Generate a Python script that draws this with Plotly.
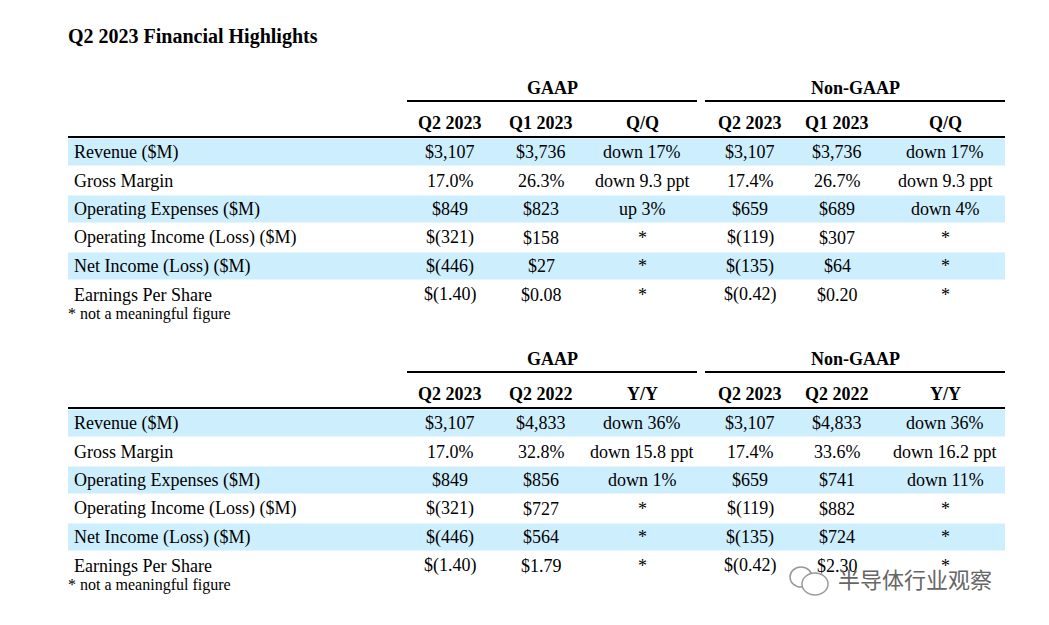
import plotly.graph_objects as go

title = "Q2 2023 Financial Highlights"
row_labels = ["Revenue ($M)", "Gross Margin", "Operating Expenses ($M)",
              "Operating Income (Loss) ($M)", "Net Income (Loss) ($M)", "Earnings Per Share"]
groups = ["GAAP", "Non-GAAP"]
cols1 = ["Q2 2023", "Q1 2023", "Q/Q", "Q2 2023", "Q1 2023", "Q/Q"]
cols2 = ["Q2 2023", "Q2 2022", "Y/Y", "Q2 2023", "Q2 2022", "Y/Y"]
t1 = [
    ["$3,107", "$3,736", "down 17%", "$3,107", "$3,736", "down 17%"],
    ["17.0%", "26.3%", "down 9.3 ppt", "17.4%", "26.7%", "down 9.3 ppt"],
    ["$849", "$823", "up 3%", "$659", "$689", "down 4%"],
    ["$(321)", "$158", "*", "$(119)", "$307", "*"],
    ["$(446)", "$27", "*", "$(135)", "$64", "*"],
    ["$(1.40)", "$0.08", "*", "$(0.42)", "$0.20", "*"],
]
t2 = [
    ["$3,107", "$4,833", "down 36%", "$3,107", "$4,833", "down 36%"],
    ["17.0%", "32.8%", "down 15.8 ppt", "17.4%", "33.6%", "down 16.2 ppt"],
    ["$849", "$856", "down 1%", "$659", "$741", "down 11%"],
    ["$(321)", "$727", "*", "$(119)", "$882", "*"],
    ["$(446)", "$564", "*", "$(135)", "$724", "*"],
    ["$(1.40)", "$1.79", "*", "$(0.42)", "$2.30", "*"],
]
footnote = "* not a meaningful figure"
watermark = "半导体行业观察"

FONT = "Liberation Serif, Times New Roman, serif"
colx = [450, 541, 642, 750, 837, 945]
BLUE = "#cdeefd"
shapes, ann = [], []

def A(x, y, t, size=18, bold=False, xanchor="center", color="black", family=FONT):
    ann.append(dict(x=x, y=y, xref="x", yref="y", text=f"<b>{t}</b>" if bold else t,
                    showarrow=False, xanchor=xanchor, yanchor="middle",
                    font=dict(family=family, size=size, color=color)))

A(66, 37, title, size=20, bold=True, xanchor="left")

def table(off, cols, data):
    rows = [153 + off + i * 28.5 for i in range(6)]
    for i, yc in enumerate(rows):
        if i % 2 == 0:
            shapes.append(dict(type="rect", xref="x", yref="y", x0=68, x1=1005,
                               y0=yc - 13.5, y1=yc + 13.5, fillcolor=BLUE, line_width=0, layer="below"))
        A(72, yc, row_labels[i], xanchor="left")
        for j, v in enumerate(data[i]):
            A(colx[j], yc, v)
    A(552, 89 + off, groups[0], bold=True)
    A(855, 89 + off, groups[1], bold=True)
    shapes.append(dict(type="line", xref="x", yref="y", x0=407, x1=697, y0=102 + off, y1=102 + off, line=dict(color="black", width=2)))
    shapes.append(dict(type="line", xref="x", yref="y", x0=705, x1=1005, y0=102 + off, y1=102 + off, line=dict(color="black", width=2)))
    for j, c in enumerate(cols):
        A(colx[j], 124 + off, c, bold=True)
    shapes.append(dict(type="line", xref="x", yref="y", x0=68, x1=1005, y0=138 + off, y1=138 + off, line=dict(color="black", width=2)))
    A(66, 315 + off, footnote, size=16, xanchor="left")

table(0, cols1, t1)
table(271, cols2, t2)
A(836, 579, watermark, size=22, xanchor="left", color="#666666", family="Noto Sans CJK SC")
shapes.append(dict(type="circle", xref="x", yref="y", x0=790, x1=812, y0=568, y1=588, line=dict(color="#999999", width=1.5)))
shapes.append(dict(type="circle", xref="x", yref="y", x0=802, x1=828, y0=574, y1=596, line=dict(color="#999999", width=1.5), fillcolor="white"))

fig = go.Figure()
fig.update_layout(width=1049, height=625, margin=dict(l=0, r=0, t=0, b=0),
                  paper_bgcolor="white", plot_bgcolor="white",
                  xaxis=dict(range=[8, 1057], visible=False, fixedrange=True),
                  yaxis=dict(range=[634, 9], visible=False, fixedrange=True),
                  shapes=shapes, annotations=ann, showlegend=False)
fig.write_html("out.html")
